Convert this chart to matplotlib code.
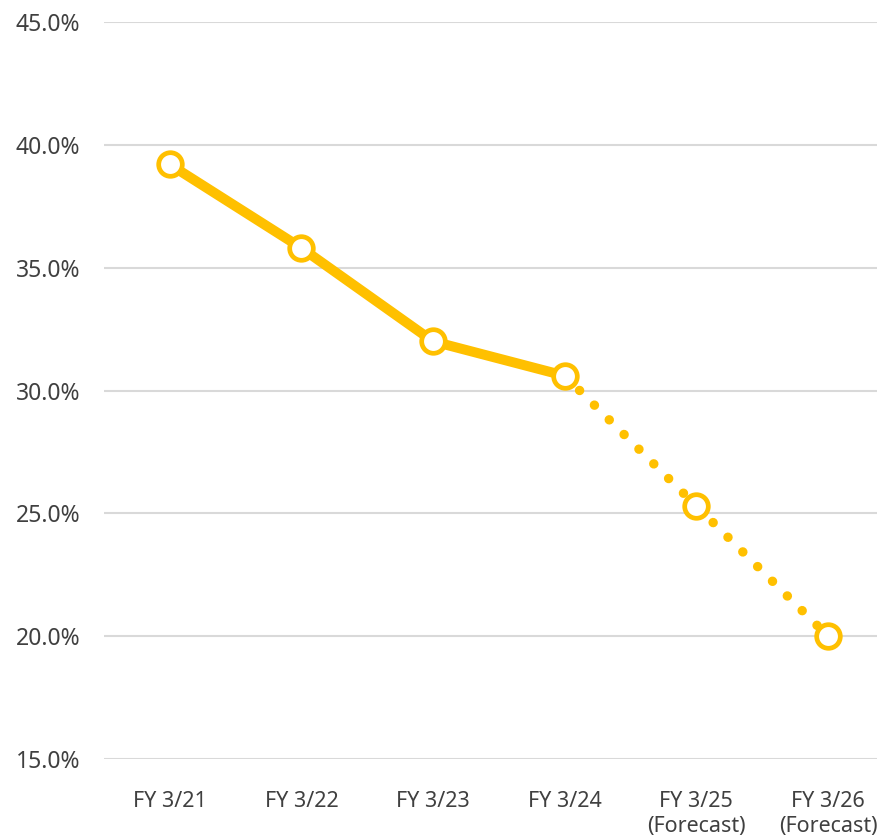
import matplotlib
matplotlib.use("Agg")
import matplotlib.pyplot as plt
from matplotlib.ticker import FuncFormatter

# data
categories = ["FY 3/21", "FY 3/22", "FY 3/23", "FY 3/24",
              "FY 3/25\n(Forecast)", "FY 3/26\n(Forecast)"]
actual_values = [39.2, 35.8, 32.0, 30.6]
forecast_values = [30.6, 25.3, 20.0]
yticks = [15, 20, 25, 30, 35, 40, 45]

YELLOW = "#FFC000"
TEXT = "#404040"

plt.rcParams["font.family"] = ["Noto Sans", "DejaVu Sans"]

fig = plt.figure(figsize=(8.78, 8.40), dpi=100)
ax = fig.add_axes([104 / 878, 81 / 840, 774 / 878, 737 / 840])

x_act = list(range(len(actual_values)))
x_fc = list(range(len(actual_values) - 1, len(categories)))

# dotted forecast line
ax.plot(x_fc, forecast_values, color=YELLOW, linewidth=6.8,
        linestyle=(0, (0.01, 2.2)), dash_capstyle="round", zorder=3)
# solid actual line
ax.plot(x_act, actual_values, color=YELLOW, linewidth=7.2,
        solid_capstyle="round", zorder=4)
# hollow markers
mk = dict(linestyle="none", marker="o", markersize=17,
          markerfacecolor="white", markeredgecolor=YELLOW,
          markeredgewidth=3.4, zorder=5)
ax.plot(x_act, actual_values, **mk)
ax.plot(x_fc[1:], forecast_values[1:], **mk)

ax.set_xlim(-0.5, 5.38)
ax.set_ylim(15, 45)
ax.set_yticks(yticks)
ax.yaxis.set_major_formatter(FuncFormatter(lambda v, p: f"{v:.1f}%"))
ax.set_xticks(range(len(categories)))
ax.set_xticklabels(categories, linespacing=1.28)

ax.grid(axis="y", color="#D9D9D9", linewidth=1.5)
ax.set_axisbelow(True)
for s in ax.spines.values():
    s.set_visible(False)
ax.tick_params(axis="both", length=0, labelcolor=TEXT)
ax.tick_params(axis="x", pad=23, labelsize=15.5)
ax.tick_params(axis="y", pad=17, labelsize=16.5)

fig.savefig("out.png", dpi=100)
